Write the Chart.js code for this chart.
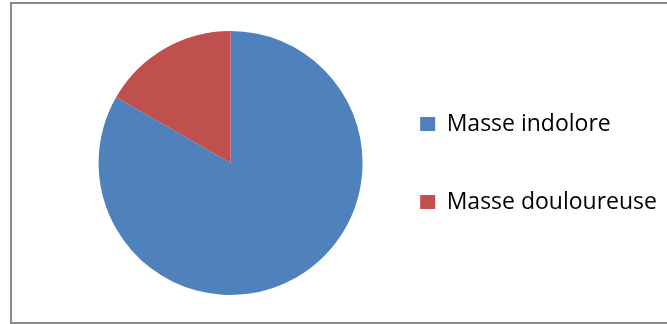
<!DOCTYPE html>
<html>
<head>
<meta charset="utf-8">
<script src="https://cdn.jsdelivr.net/npm/chart.js@4/dist/chart.umd.min.js"></script>
<style>
  html, body { margin: 0; padding: 0; background: #fff; }
  #frame { position: absolute; left: 10px; top: 2px; width: 680px; height: 318px; border: 2px solid #8a8a8a; box-sizing: content-box; }
  #wrap { position: absolute; left: 0; top: 0; width: 667px; height: 324px; }
</style>
</head>
<body>
<div id="frame"></div>
<div id="wrap"><canvas id="c"></canvas></div>
<script>
const categories = ["Masse indolore", "Masse douloureuse"];
const values = [83.3, 16.7];
const colors = ["#4F81BD", "#C0504D"];

new Chart(document.getElementById("c"), {
  type: "pie",
  data: {
    labels: categories,
    datasets: [{ data: values, backgroundColor: colors, borderWidth: 0 }]
  },
  options: {
    responsive: true,
    maintainAspectRatio: false,
    animation: false,
    layout: { padding: { left: 96, right: 0, top: 31, bottom: 29 } },
    plugins: {
      tooltip: { enabled: false },
      legend: {
        position: "right",
        maxWidth: 400,
        labels: {
          color: "#000",
          font: { family: "Open Sans", size: 23 },
          boxWidth: 15,
          boxHeight: 14,
          padding: 55
        }
      }
    }
  }
});
</script>
</body>
</html>
